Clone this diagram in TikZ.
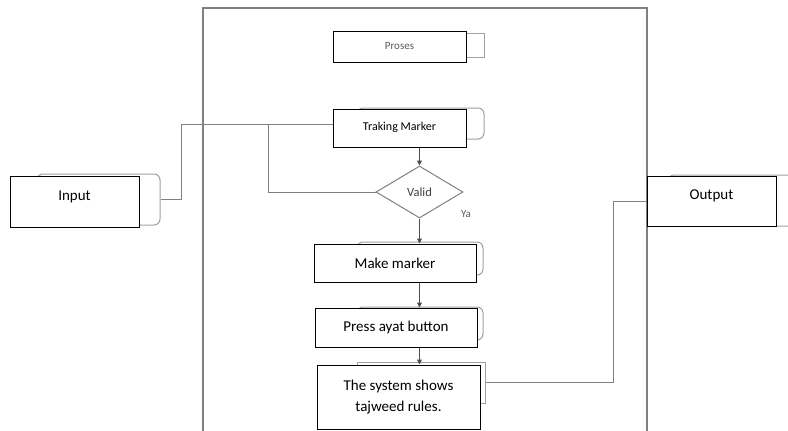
\documentclass[tikz,border=0pt]{standalone}
\usepackage{fontspec}
\setmainfont{Carlito}
\usetikzlibrary{arrows.meta,positioning,calc,shapes.geometric}
\definecolor{Edge}{HTML}{808080}
\definecolor{Ghost}{HTML}{A0A0A0}
\definecolor{Faint}{HTML}{5A5A5A}
\tikzset{
  stepbox/.style={draw=black,fill=white,line width=1pt,inner sep=1pt,align=center,font=\fontsize{15}{21}\selectfont},
  ghost/.style={draw=Ghost,fill=white,line width=1pt,rounded corners=6pt,inner sep=0pt},
  dec/.style={draw=Edge,fill=white,diamond,aspect=1.67,inner sep=0pt,line width=1pt,font=\fontsize{12.5}{14}\selectfont,text=Faint!70!black},
  link/.style={draw=Edge,line width=1pt},
  flow/.style={-{Triangle[length=5pt,width=5pt]},draw=Edge,line width=1pt,color=Edge!60!black},
}
\begin{document}
\begin{tikzpicture}[x=1pt,y=-1pt]
  \useasboundingbox (0,0) rectangle (788,431);
  \draw[draw=Edge,line width=1.3pt] (203,440) -- (203,8) -- (647,8) -- (647,440);

  \node[ghost,minimum width=123,minimum height=51] (in-sh) at (98.5,199.5) {};
  \node[stepbox,minimum width=129,minimum height=51] (input) at (74.5,201.5) {\raisebox{11pt}{Input}};
  \node[ghost,minimum width=132,minimum height=51] (out-sh) at (734,200.5) {};
  \node[stepbox,minimum width=129,minimum height=50] (output) at (711.5,201) {\raisebox{12pt}{Output}};

  \node[ghost,sharp corners,minimum width=124,minimum height=24] (prs-sh) at (422,45) {};
  \node[stepbox,minimum width=133,minimum height=31,font=\fontsize{11}{13}\selectfont,text=Faint] (proses) at (399.5,46.5) {Proses};
  \node[ghost,minimum width=127,minimum height=31] (tm-sh) at (420.5,123.5) {};
  \node[stepbox,minimum width=133,minimum height=38,font=\fontsize{12}{14}\selectfont] (tm) at (399.5,128) {\raisebox{3pt}{Traking Marker}};
  \node[dec,minimum width=87,minimum height=52] (valid) at (419.5,192) {Valid};
  \node[font=\fontsize{11}{13}\selectfont,text=Faint] (ya) at (466,214) {Ya};
  \node[ghost,minimum width=126,minimum height=33] (mk-sh) at (420,258.5) {};
  \node[stepbox,minimum width=162,minimum height=38] (mk) at (395,263) {Make marker};
  \node[ghost,minimum width=126,minimum height=33] (pr-sh) at (420,323.5) {};
  \node[stepbox,minimum width=162,minimum height=39] (press) at (396,327.5) {Press ayat button};
  \node[ghost,sharp corners,minimum width=128,minimum height=41] (sys-sh) at (421,382.5) {};
  \node[stepbox,minimum width=163,minimum height=64] (sys) at (398.5,397) {The system shows\\tajweed rules.};

  \coordinate (split) at (268,124);
  \draw[link] (in-sh.east) -- ++(21,0) |- ([yshift=4pt]tm.west);
  \draw[link] (split) |- (valid.west);
  \draw[link] (sys-sh.east) -- ++(128,0) |- (output.west);

  \draw[flow] (valid.north |- tm.south) -- (valid.north);
  \draw[flow] (valid.south) -- (valid.south |- mk.north);
  \draw[flow] (valid.south |- mk.south) -- (valid.south |- press.north);
  \draw[flow] (valid.south |- press.south) -- (valid.south |- sys.north);
\end{tikzpicture}
\end{document}
